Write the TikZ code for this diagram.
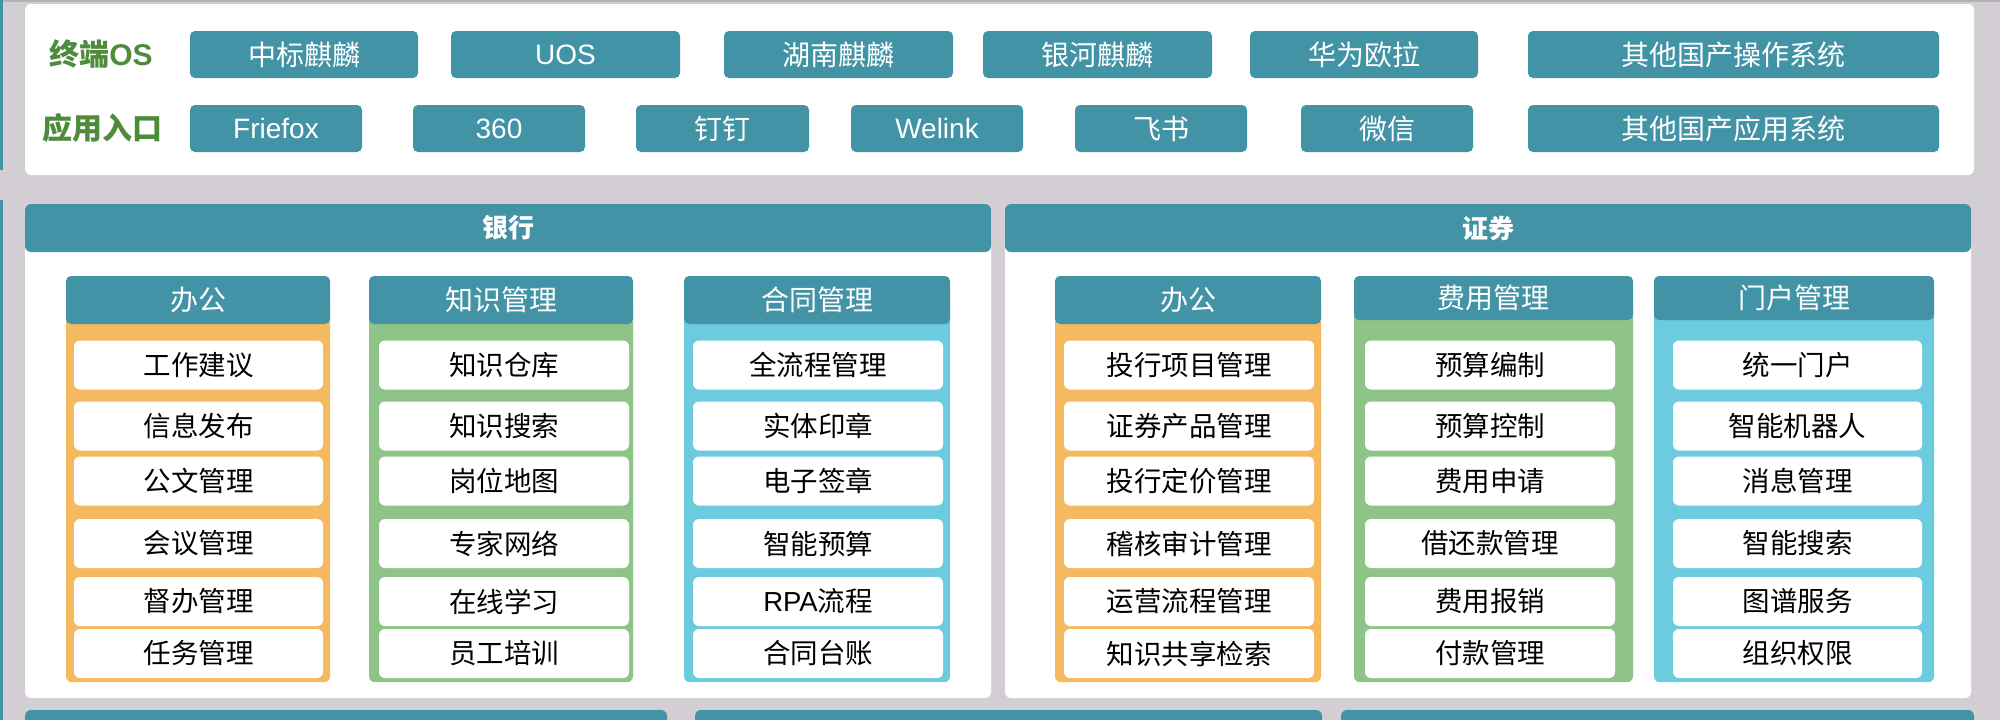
\documentclass[tikz,border=0pt]{standalone}
\usepackage{fontspec}
\setmainfont{Noto Sans CJK SC}
\newfontfamily\lat{Liberation Sans}

\definecolor{hdteal}{RGB}{66,147,165}
\definecolor{bggray}{RGB}{211,206,212}
\definecolor{colorange}{RGB}{245,185,96}
\definecolor{colgreen}{RGB}{143,196,137}
\definecolor{colblue}{RGB}{108,203,222}
\definecolor{lblgreen}{RGB}{78,140,60}

\tikzset{
  osbox/.style={fill=hdteal, text=white, rounded corners=5pt, inner sep=0pt,
    minimum height=47pt, font=\fontsize{28}{32}\selectfont},
  rowlabel/.style={text=lblgreen, inner sep=0pt, font=\fontsize{30}{34}\selectfont\bfseries},
  secbar/.style={fill=hdteal, text=white, rounded corners=6pt, inner sep=0pt,
    minimum height=48pt, font=\fontsize{26}{30}\selectfont\bfseries},
  colhead/.style={fill=hdteal, text=white, rounded corners=5pt, inner sep=0pt,
    minimum height=48pt, font=\fontsize{28}{32}\selectfont},
  colbody/.style={rounded corners=6pt, inner sep=0pt, anchor=north},
  itembox/.style={fill=white, rounded corners=6pt, inner sep=0pt,
    minimum height=49pt, font=\fontsize{27.5}{31}\selectfont}
}

\begin{document}
\begin{tikzpicture}[x=1pt, y=-1pt]

  % Background
  \useasboundingbox (0,0) rectangle (2000,720);
  \clip (0,0) rectangle (2000,720);
  \fill[bggray] (0,0) rectangle (2000,720);
  \fill[black!30] (0,0) rectangle (2000,2);
  \fill[hdteal] (0,0) rectangle (3,170);
  \fill[hdteal] (0,200) rectangle (3,720);

  % Terminal OS / app entry panel
  \fill[white, rounded corners=6pt] (25,4) rectangle (1974,175);
  \node[rowlabel] (oslbl) at (101,54) {终端{\lat OS}};
  \node[rowlabel] (applbl) at (102,128) {应用入口};

  \node[osbox, minimum width=228pt] (os1) at (304,54.5) {中标麒麟};
  \node[osbox, minimum width=229pt] (os2) at (565.5,54.5) {\lat UOS};
  \node[osbox, minimum width=229pt] (os3) at (838.5,54.5) {湖南麒麟};
  \node[osbox, minimum width=229pt] (os4) at (1097.5,54.5) {银河麒麟};
  \node[osbox, minimum width=228pt] (os5) at (1364,54.5) {华为欧拉};
  \node[osbox, minimum width=411pt] (os6) at (1733.5,54.5) {其他国产操作系统};

  \node[osbox, minimum width=172pt] (app1) at (276,128.5) {\lat Friefox};
  \node[osbox, minimum width=172pt] (app2) at (499,128.5) {\lat 360};
  \node[osbox, minimum width=173pt] (app3) at (722.5,128.5) {钉钉};
  \node[osbox, minimum width=172pt] (app4) at (937,128.5) {\lat Welink};
  \node[osbox, minimum width=172pt] (app5) at (1161,128.5) {飞书};
  \node[osbox, minimum width=172pt] (app6) at (1387,128.5) {微信};
  \node[osbox, minimum width=411pt] (app7) at (1733.5,128.5) {其他国产应用系统};

  % Bank panel
  \fill[white, rounded corners=6pt] (25,204) rectangle (991,698);
  \node[secbar, minimum width=966pt] (bank) at (508,228) {银行};

  \node[colbody, fill=colorange, minimum width=264pt, minimum height=382pt] (bkb1) at (198,300) {};
  \node[colbody, fill=colgreen, minimum width=264pt, minimum height=382pt] (bkb2) at (501,300) {};
  \node[colbody, fill=colblue, minimum width=266pt, minimum height=382pt] (bkb3) at (817,300) {};
  \node[colhead, minimum width=264pt] (bkh1) at (198,300) {办公};
  \node[colhead, minimum width=264pt] (bkh2) at (501,300) {知识管理};
  \node[colhead, minimum width=266pt] (bkh3) at (817,300) {合同管理};

  \foreach \t [count=\i] in {工作建议,信息发布,公文管理,会议管理,督办管理,任务管理}{
    \pgfmathsetmacro\yc{{365,426,481,543.5,601.5,653.5}[\i-1]}
    \node[itembox, minimum width=249pt] (bka\i) at (198.5,\yc) {\t};
  }
  \foreach \t [count=\i] in {知识仓库,知识搜索,岗位地图,专家网络,在线学习,员工培训}{
    \pgfmathsetmacro\yc{{365,426,481,543.5,601.5,653.5}[\i-1]}
    \node[itembox, minimum width=250pt] (bkk\i) at (504,\yc) {\t};
  }
  \foreach \t [count=\i] in {全流程管理,实体印章,电子签章,智能预算,{{\lat RPA}流程},合同台账}{
    \pgfmathsetmacro\yc{{365,426,481,543.5,601.5,653.5}[\i-1]}
    \node[itembox, minimum width=250pt] (bkc\i) at (818,\yc) {\t};
  }

  % Securities panel
  \fill[white, rounded corners=6pt] (1005,204) rectangle (1971,698);
  \node[secbar, minimum width=966pt] (sec) at (1488,228) {证券};

  \node[colbody, fill=colorange, minimum width=266pt, minimum height=382pt] (scb1) at (1188,300) {};
  \node[colbody, fill=colgreen, minimum width=279pt, minimum height=382pt] (scb2) at (1493.5,300) {};
  \node[colbody, fill=colblue, minimum width=280pt, minimum height=382pt] (scb3) at (1794,300) {};
  \node[colhead, minimum width=266pt] (sch1) at (1188,300) {办公};
  \node[colhead, minimum width=279pt, minimum height=44pt] (sch2) at (1493.5,298) {费用管理};
  \node[colhead, minimum width=280pt, minimum height=44pt] (sch3) at (1794,298) {门户管理};

  \foreach \t [count=\i] in {投行项目管理,证券产品管理,投行定价管理,稽核审计管理,运营流程管理,知识共享检索}{
    \pgfmathsetmacro\yc{{365,426,481,543.5,601.5,653.5}[\i-1]}
    \node[itembox, minimum width=250pt] (sco\i) at (1189,\yc) {\t};
  }
  \foreach \t [count=\i] in {预算编制,预算控制,费用申请,借还款管理,费用报销,付款管理}{
    \pgfmathsetmacro\yc{{365,426,481,543.5,601.5,653.5}[\i-1]}
    \node[itembox, minimum width=250pt] (scf\i) at (1490,\yc) {\t};
  }
  \foreach \t [count=\i] in {统一门户,智能机器人,消息管理,智能搜索,图谱服务,组织权限}{
    \pgfmathsetmacro\yc{{365,426,481,543.5,601.5,653.5}[\i-1]}
    \node[itembox, minimum width=249pt] (scm\i) at (1797.5,\yc) {\t};
  }

  % Bars of the next row (cut off)
  \fill[hdteal, rounded corners=6pt] (25,710) rectangle (667,760);
  \fill[hdteal, rounded corners=6pt] (695,710) rectangle (1322,760);
  \fill[hdteal, rounded corners=6pt] (1341,710) rectangle (1974,760);

\end{tikzpicture}
\end{document}
